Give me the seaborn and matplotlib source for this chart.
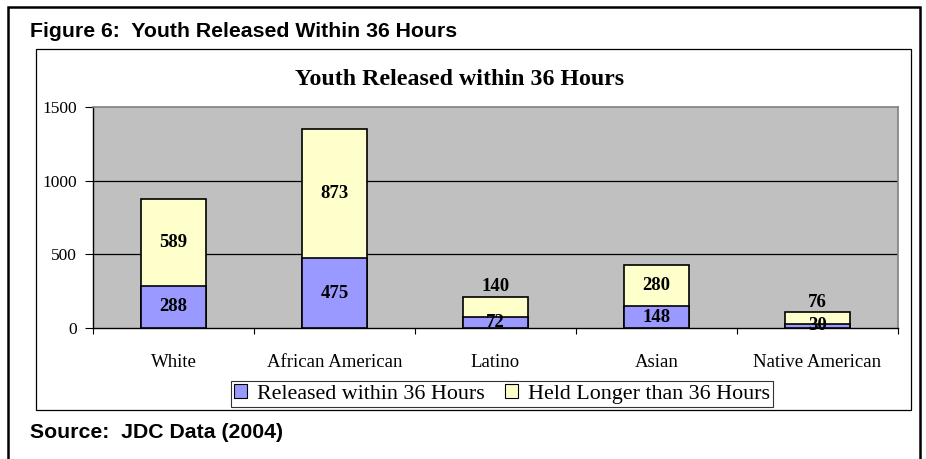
import numpy as np
import pandas as pd
import matplotlib
matplotlib.use('Agg')
import matplotlib.pyplot as plt
import seaborn as sns
from matplotlib.patches import Rectangle, Patch

# chart data
groups = ['White', 'African American', 'Latino', 'Asian', 'Native American']
released = [288, 475, 72, 148, 30]
held = [589, 873, 140, 280, 76]
y_ticks = [0, 500, 1000, 1500]

df = pd.DataFrame({'group': groups, 'released': released, 'held': held})
df['total'] = df['released'] + df['held']

sns.set_style('white')
plt.rcParams['font.family'] = ['Liberation Serif', 'DejaVu Serif']
plt.rcParams['text.color'] = 'black'
plt.rcParams['xtick.color'] = 'black'
plt.rcParams['ytick.color'] = 'black'
plt.rcParams['xtick.labelcolor'] = 'black'
plt.rcParams['ytick.labelcolor'] = 'black'

W, H = 926, 459
fig = plt.figure(figsize=(W / 100, H / 100), dpi=100)


def fx(x):
    return x / W


def fy(y):
    return 1 - y / H


# plot area placed to match the original layout (pixels)
ax = fig.add_axes([fx(93), fy(328), fx(898) - fx(93), fy(107) - fy(328)])
ax.set_facecolor('#C0C0C0')

# stacked bars: full total in yellow, released part drawn over it in blue
sns.barplot(data=df, x='group', y='total', color='#FFFFCC', saturation=1,
            edgecolor='black', linewidth=1.2, width=0.405, ax=ax, zorder=3)
sns.barplot(data=df, x='group', y='released', color='#9999FF', saturation=1,
            edgecolor='black', linewidth=1.2, width=0.405, ax=ax, zorder=4)

ax.set_ylim(0, 1500)
ax.set_xlim(-0.5, len(groups) - 0.5)
ax.set_yticks(y_ticks)
ax.set_xlabel('')
ax.set_ylabel('')

for v in y_ticks[1:3]:
    ax.axhline(v, color='black', lw=0.9, zorder=1)

for side in ['top', 'right']:
    ax.spines[side].set_color('#808080')
    ax.spines[side].set_linewidth(1.2)
for side in ['left', 'bottom']:
    ax.spines[side].set_color('black')
    ax.spines[side].set_linewidth(1.0)

ax.tick_params(axis='y', direction='out', length=5.8, width=0.8, color='black',
               pad=5.5, labelsize=12.5, left=True)
ax.tick_params(axis='x', which='major', length=0, pad=19, labelsize=13.5)
ax.set_xticks(np.arange(-0.5, len(groups), 1), minor=True)
ax.tick_params(axis='x', which='minor', direction='out', length=4.5, width=0.8,
               color='black', bottom=True)

# value labels
for i, (r, h) in enumerate(zip(released, held)):
    ax.text(i, r / 2, str(r), ha='center', va='center', fontsize=13.5,
            fontweight='bold', color='black', zorder=6)
    if h < 200:
        ax.annotate(str(h), (i, r + h), xytext=(0, 1), textcoords='offset points',
                    ha='center', va='bottom', fontsize=13.5, fontweight='bold',
                    color='black', zorder=6)
    else:
        ax.text(i, r + h / 2, str(h), ha='center', va='center', fontsize=13.5,
                fontweight='bold', color='black', zorder=6)

# chart title inside the chart box
fig.text(fx(295), fy(85), 'Youth Released within 36 Hours', ha='left',
         va='baseline', fontsize=17.2, fontweight='bold')

# legend
handles = [Patch(facecolor='#9999FF', edgecolor='black', lw=0.8,
                 label='Released within 36 Hours'),
           Patch(facecolor='#FFFFCC', edgecolor='black', lw=0.8,
                 label='Held Longer than 36 Hours')]
leg = fig.legend(handles=handles, loc='center', bbox_to_anchor=(fx(502), fy(394)),
                 ncol=2, fontsize=15.8, frameon=True, fancybox=False,
                 handlelength=0.6, handleheight=0.6, handletextpad=0.45,
                 columnspacing=0.9, borderpad=0.15, borderaxespad=0)
leg.get_frame().set_edgecolor('black')
leg.get_frame().set_linewidth(0.8)

# chart box and outer figure frame
fig.add_artist(Rectangle((fx(36), fy(410)), fx(911) - fx(36), fy(49) - fy(410),
                         transform=fig.transFigure, fill=False, ec='black', lw=0.9))
fig.add_artist(Rectangle((fx(8), fy(480)), fx(920) - fx(8), fy(7) - fy(480),
                         transform=fig.transFigure, fill=False, ec='black', lw=1.8,
                         clip_on=False))

# document caption and source
fig.text(fx(30), fy(37), 'Figure 6:  Youth Released Within 36 Hours',
         family=['Liberation Sans', 'DejaVu Sans'], fontweight='bold',
         fontsize=15.3, ha='left', va='baseline')
fig.text(fx(30), fy(438), 'Source:  JDC Data (2004)',
         family=['Liberation Sans', 'DejaVu Sans'], fontweight='bold',
         fontsize=15.3, ha='left', va='baseline')

fig.savefig('out.png', dpi=100)
